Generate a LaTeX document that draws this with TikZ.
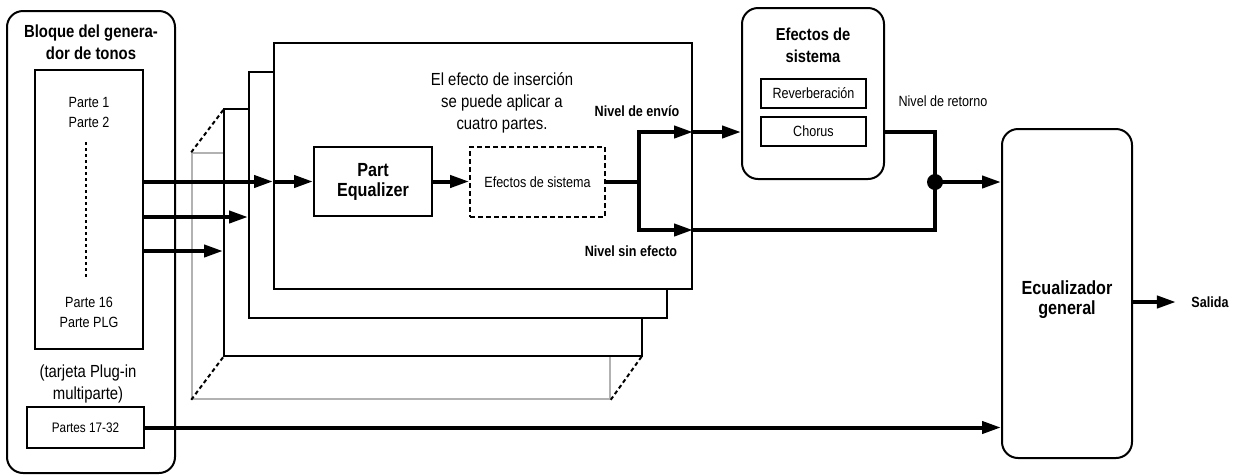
\documentclass[tikz,border=0pt]{standalone}
\usepackage{fontspec}
\setmainfont{Liberation Sans}[FakeStretch=0.85]
\usetikzlibrary{arrows.meta,positioning,calc}

\begin{document}
\begin{tikzpicture}[x=1pt,y=-1pt,
  font=\fontsize{14.8}{20}\selectfont,
  frame/.style={draw,line width=2pt,rounded corners=16pt,inner sep=0pt},
  layer/.style={draw,line width=2pt,fill=white,inner sep=0pt,minimum width=418pt,minimum height=246pt},
  thinbox/.style={draw,line width=1.2pt,inner sep=0pt,align=center},
  sig/.style={line width=4pt,-{Triangle[length=19pt,width=12pt]}},
  wire/.style={line width=4pt},
  dots/.style={line width=2pt,dash pattern=on 4pt off 3pt},
  ttl/.style={font=\bfseries\fontsize{17.5}{22}\selectfont,align=center},
  big/.style={font=\fontsize{17.5}{22}\selectfont,align=center},
  lbl/.style={font=\bfseries\fontsize{14.8}{17}\selectfont}]

  \useasboundingbox (0,0) rectangle (1239,475);

  % Tone generator block
  \node[frame,minimum width=168pt,minimum height=462pt] (gen) at (91,242) {};
  \node[ttl] (gentitle) at (91,42) {Bloque del genera-\\dor de tonos};
  \node[thinbox,minimum width=108pt,minimum height=279pt] (parts) at (89,209.5) {};
  \node[align=center] (ptop) at (89,112) {Parte 1\\Parte 2};
  \node[align=center] (pbot) at (89,312) {Parte 16\\Parte PLG};
  \draw[line width=2pt,dash pattern=on 3pt off 3pt] (86,142) -- (86,277);
  \node[big] (plug) at (88,384) {(tarjeta Plug-in\\multiparte)};
  \node[thinbox,minimum width=117pt,minimum height=41pt,font=\fontsize{13.8}{16}\selectfont] (p1732) at (85.5,427.5) {Partes 17-32};

  % Part layers, back to front
  \node[layer,draw=black!30,line width=1.5pt] (lay4) at (401,276) {};
  \draw[dots] (lay4.north west) -- (224,109);
  \draw[dots] (lay4.south west) -- (224,356);
  \draw[dots] (lay4.south east) -- (642,356);
  \node[layer,minimum height=247pt] (lay3) at (433,232.5) {};
  \node[layer] (lay2) at (458,195) {};
  \node[layer] (lay1) at (483,166) {};

  % Insertion chain
  \node[draw,line width=2pt,minimum width=118pt,minimum height=69pt,
        font=\bfseries\fontsize{19}{20}\selectfont,align=center] (peq) at (373,181.5) {Part\\Equalizer};
  \node[draw,line width=1.8pt,dash pattern=on 5pt off 3pt,minimum width=135pt,minimum height=70pt] (ins) at (537.5,182) {Efectos de sistema};
  \node[big] (insnote) at (502,103) {El efecto de inserción\\se puede aplicar a\\cuatro partes.};

  % Inputs into the layers
  \draw[sig] (parts.east |- peq) -- (lay1.west |- peq);
  \draw[sig] (lay1.west |- peq) -- (peq.west);
  \draw[sig] (parts.east |- 0,217) -- (lay2.west |- 0,217);
  \draw[sig] (parts.east |- 0,251) -- (lay3.west |- 0,251);
  \draw[sig] (peq.east) -- (peq.east -| ins.west);

  % Send / dry split
  \coordinate (split) at (639,182);
  \coordinate (send) at (639,132);
  \coordinate (dry) at (639,230);
  \draw[wire] (ins.east) -- (split);
  \draw[sig] (split) |- (send -| lay1.east);
  \draw[sig] (split) |- (dry -| lay1.east);
  \node[lbl] (sendlbl) at (637,111) {Nivel de envío};
  \node[lbl] (drylbl) at (631,251) {Nivel sin efecto};

  % System effects
  \node[frame,minimum width=142pt,minimum height=171pt] (sys) at (813,93.5) {};
  \node[font=\bfseries\fontsize{17.3}{22}\selectfont,align=center] (systitle) at (813,45) {Efectos de\\sistema};
  \node[thinbox,minimum width=105pt,minimum height=29pt] (rev) at (813.5,93.5) {Reverberación};
  \node[thinbox,minimum width=105pt,minimum height=29pt] (cho) at (813.5,131.5) {Chorus};
  \draw[sig] (send -| lay1.east) -- (send -| sys.west);

  % Return and mix
  \coordinate (mix) at (935,182);
  \draw[wire] (send -| sys.east) -| (dry -| mix) -- (dry -| lay1.east);
  \fill (mix) circle (8pt);
  \node (retlbl) at (943,101) {Nivel de retorno};

  % Master EQ
  \node[frame,minimum width=130pt,minimum height=329pt] (eq) at (1067,293.5) {};
  \node[font=\bfseries\fontsize{19}{20}\selectfont,align=center] (eqtxt) at (1067,300) {Ecualizador\\general};
  \node[lbl] (out) at (1210,302) {Salida};
  \draw[sig] (mix) -- (mix -| eq.west);
  \draw[sig] (p1732.east) -- (p1732.east -| eq.west);
  \draw[sig,shorten >=12pt] (eq.east |- out) -- (out.west);
\end{tikzpicture}
\end{document}
